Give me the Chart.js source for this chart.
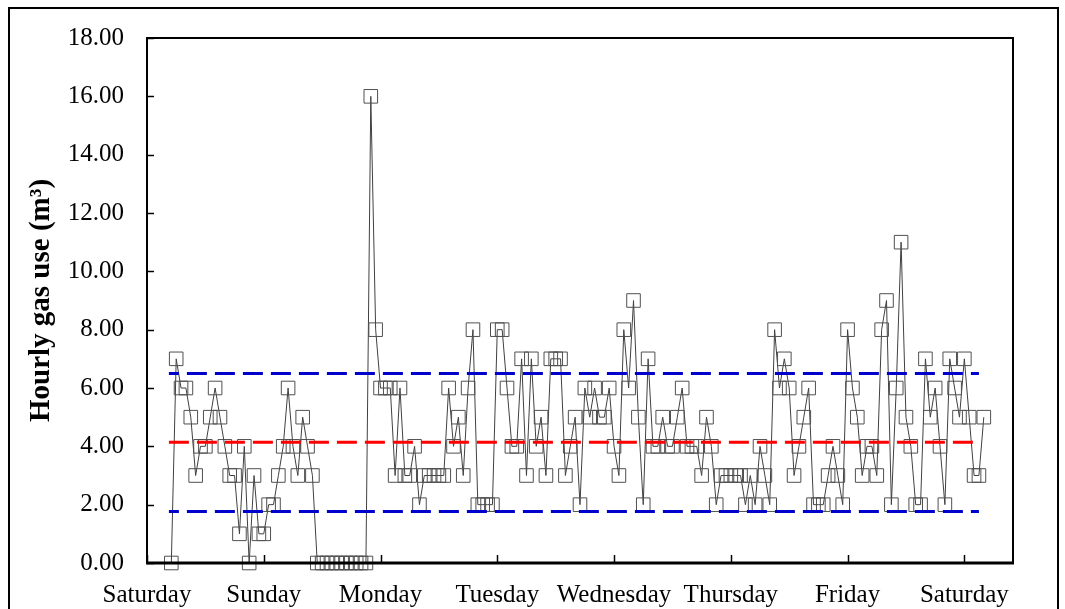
<!DOCTYPE html>
<html>
<head>
<meta charset="utf-8">
<script src="https://cdn.jsdelivr.net/npm/chart.js@4"></script>
<style>
  html, body { margin: 0; padding: 0; background: #fff; overflow: hidden; }
  #wrap { position: relative; width: 1065px; height: 609px; }
  #frame { position: absolute; left: 8px; top: 7px; width: 1047px; height: 700px; border: 2px solid #000; }
  #gasChart { position: absolute; left: 0; top: 0; }
</style>
</head>
<body>
<div id="wrap">
  <div id="frame"></div>
  <canvas id="gasChart" width="1065" height="609"></canvas>
</div>
<script>
// hourly gas use, one value per hour, first reading at hour 5 of Saturday
const firstHour = 5;
const hourlyUse = [
  0, 7, 6, 6, 5, 3, 4, 4, 5, 6, 5, 4, 3, 3, 1, 4, 0, 3, 1, 1, 2, 2, 3, 4, 6, 4, 3, 5, 4, 3,
  0, 0, 0, 0, 0, 0, 0, 0, 0, 0, 0,
  16, 8, 6, 6, 6, 3, 6, 3, 3, 4, 2, 3, 3, 3, 3, 3, 6, 4, 5, 3, 6, 8, 2, 2, 2, 2, 8, 8,
  6, 4, 4, 7, 3, 7, 4, 5, 3, 7, 7, 7, 3, 4, 5, 2, 6, 5, 6, 5, 5, 6, 4, 3, 8, 6, 9, 5, 2, 7,
  4, 4, 5, 4, 4, 5, 6, 4, 4, 4, 3, 5, 4, 2, 3, 3, 3, 3, 3, 2, 3, 2, 4, 3, 2, 8, 6, 7, 6, 3,
  4, 5, 6, 2, 2, 2, 3, 4, 3, 2, 8, 6, 5, 3, 4, 4, 3, 8, 9, 2, 6, 11, 5, 4, 2, 2, 7, 5, 6, 4,
  2, 7, 6, 5, 7, 5, 3, 3, 5
];

// mean and mean +/- one standard deviation
const meanUse = 4.14;
const upperUse = 6.5;
const lowerUse = 1.77;
const refStartHour = 4.5;
const refEndHour = 171;

const dayLabels = ['Saturday', 'Sunday', 'Monday', 'Tuesday', 'Wednesday', 'Thursday', 'Friday', 'Saturday'];
const yTicks = [0, 2, 4, 6, 8, 10, 12, 14, 16, 18];

const serif = '"Liberation Serif", "Times New Roman", serif';

const refLine = (value, color, offset) => ({
  data: [{ x: refStartHour, y: value }, { x: refEndHour, y: value }],
  borderColor: color,
  borderWidth: 3,
  borderDash: [20, 8],
  borderDashOffset: offset,
  pointRadius: 0,
  fill: false
});

const frameAndTicks = {
  id: 'frameAndTicks',
  afterDraw(chart) {
    const ctx = chart.ctx;
    const a = chart.chartArea;
    const x = chart.scales.x;
    const y = chart.scales.y;
    ctx.save();
    ctx.strokeStyle = '#000';
    ctx.lineWidth = 1.5;
    y.ticks.forEach(t => {
      const py = Math.round(y.getPixelForValue(t.value)) + 0.5;
      ctx.beginPath();
      ctx.moveTo(a.left, py);
      ctx.lineTo(a.left + 7, py);
      ctx.stroke();
    });
    x.ticks.forEach(t => {
      const px = Math.round(x.getPixelForValue(t.value)) + 0.5;
      ctx.beginPath();
      ctx.moveTo(px, a.bottom);
      ctx.lineTo(px, a.bottom - 8);
      ctx.stroke();
    });
    ctx.lineWidth = 2;
    ctx.strokeRect(a.left, a.top, a.right - a.left, a.bottom - a.top);
    ctx.lineWidth = 3;
    ctx.beginPath();
    ctx.moveTo(a.left - 1, a.bottom);
    ctx.lineTo(a.right + 1, a.bottom);
    ctx.stroke();
    ctx.restore();
  }
};

const ctx = document.getElementById('gasChart').getContext('2d');

new Chart(ctx, {
  type: 'line',
  data: {
    datasets: [
      refLine(upperUse, '#0000CC', 10),
      refLine(lowerUse, '#0000CC', 10),
      refLine(meanUse, '#FF0000', 0),
      {
        data: hourlyUse.map((v, i) => ({ x: firstHour + i, y: v })),
        borderColor: '#404040',
        borderWidth: 1,
        pointStyle: 'rect',
        pointRadius: 9.6,
        pointBorderWidth: 1,
        pointBorderColor: '#505050',
        pointBackgroundColor: 'rgba(0,0,0,0)',
        tension: 0,
        clip: false
      }
    ]
  },
  options: {
    responsive: false,
    animation: false,
    devicePixelRatio: 1,
    layout: { padding: { left: 0, top: 34, right: 52, bottom: 0 } },
    plugins: { legend: { display: false }, tooltip: { enabled: false } },
    scales: {
      x: {
        type: 'linear',
        min: 0,
        max: 178,
        grid: { display: false, drawTicks: false },
        border: { display: false },
        afterBuildTicks: scale => {
          scale.ticks = dayLabels.map((d, i) => ({ value: i * 24 }));
        },
        afterFit: scale => { scale.height = 46; },
        ticks: {
          autoSkip: false,
          maxRotation: 0,
          padding: 17,
          color: '#000',
          font: { family: serif, size: 25 },
          callback: (v, i) => dayLabels[i]
        }
      },
      y: {
        min: 0,
        max: 18,
        grid: { display: false, drawTicks: false },
        border: { display: false },
        afterBuildTicks: scale => {
          scale.ticks = yTicks.map(v => ({ value: v }));
        },
        afterFit: scale => { scale.width = 147; },
        ticks: {
          padding: 23,
          color: '#000',
          font: { family: serif, size: 25 },
          callback: v => v.toFixed(2)
        },
        title: {
          display: true,
          text: 'Hourly gas use (m³)',
          color: '#000',
          font: { family: serif, size: 29, weight: 'bold' },
          padding: { top: 24, bottom: 0 }
        }
      }
    }
  },
  plugins: [frameAndTicks]
});
</script>
</body>
</html>
